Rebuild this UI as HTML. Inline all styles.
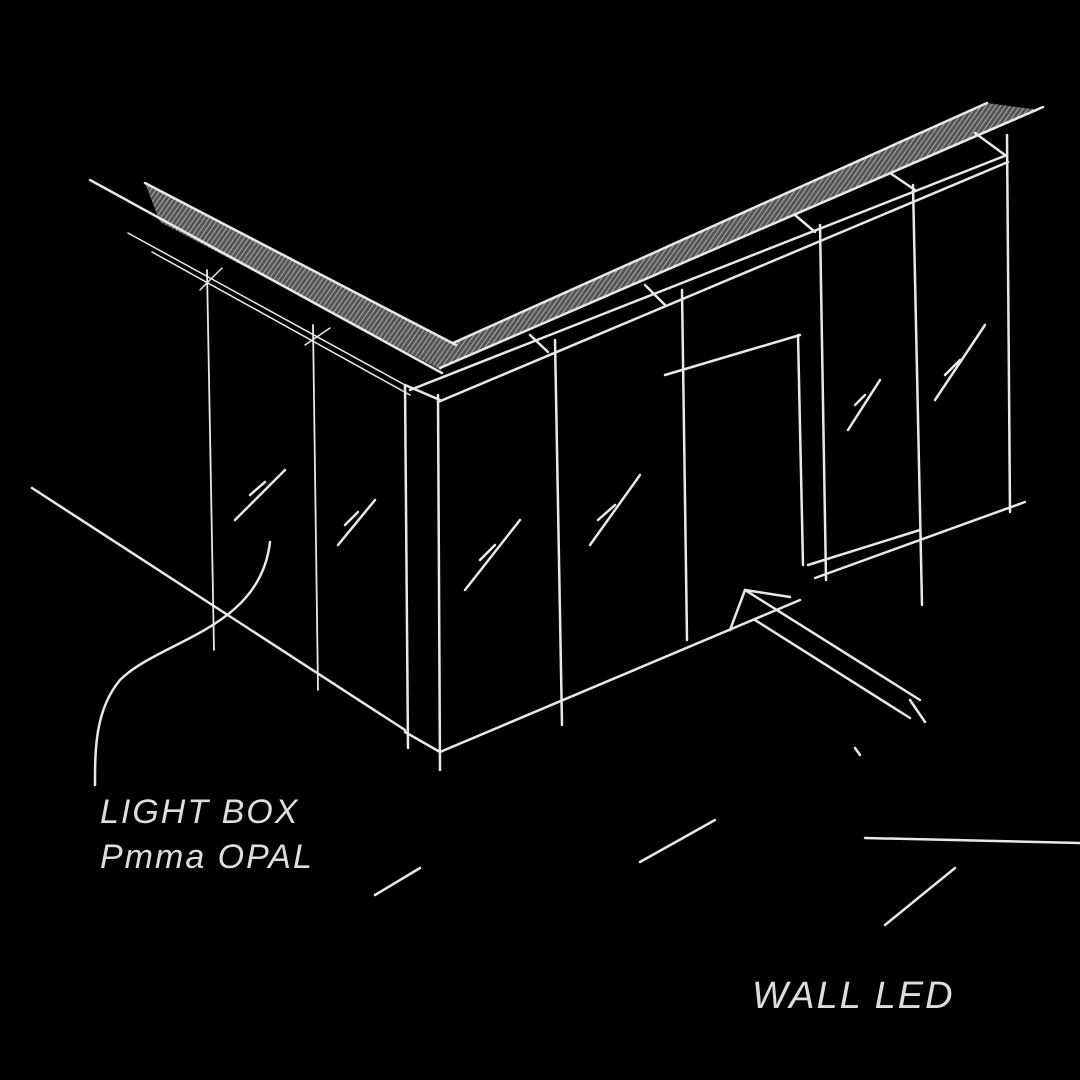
<!DOCTYPE html>
<html><head><style>
html,body{margin:0;padding:0;background:#000;width:1080px;height:1080px;overflow:hidden}
svg{display:block}
text{font-family:"Liberation Sans",sans-serif;fill:#ddd;font-style:italic;letter-spacing:2px}
</style></head><body>
<svg width="1080" height="1080" viewBox="0 0 1080 1080">
<defs>
<pattern id="h" width="4" height="4" patternUnits="userSpaceOnUse" patternTransform="rotate(35)">
<rect width="4" height="4" fill="#555"/><line x1="0" y1="0" x2="0" y2="4" stroke="#bbb" stroke-width="1.6"/>
</pattern>
</defs>
<rect width="1080" height="1080" fill="#000"/>
<polygon points="145,183 455,343 441,370 160,222" fill="url(#h)"/>
<polygon points="453,343 987,103 1040,110 440,368" fill="url(#h)"/>
<g stroke="#e8e8e8" stroke-width="2.5" fill="none" stroke-linecap="round">
<!-- left beam -->
<line x1="90" y1="180" x2="442" y2="373"/>
<line x1="145" y1="183" x2="456" y2="345"/>
<line x1="128" y1="233" x2="405" y2="385" stroke-width="1.5"/>
<line x1="152" y1="252" x2="410" y2="395" stroke-width="1.5"/>
<line x1="200" y1="290" x2="222" y2="268" stroke-width="1.5"/>
<line x1="305" y1="345" x2="330" y2="328" stroke-width="1.5"/>
<!-- right beam -->
<line x1="453" y1="343" x2="987" y2="103"/>
<line x1="440" y1="368" x2="1043" y2="107"/>
<line x1="410" y1="390" x2="1007" y2="155"/>
<line x1="438" y1="402" x2="1008" y2="162"/>
<line x1="530" y1="335" x2="548" y2="352"/>
<line x1="645" y1="285" x2="665" y2="305"/>
<line x1="795" y1="215" x2="815" y2="232"/>
<line x1="890" y1="173" x2="915" y2="190"/>
<line x1="975" y1="133" x2="1005" y2="155"/>
<!-- front box -->
<line x1="405" y1="385" x2="408" y2="748"/>
<line x1="438" y1="395" x2="440" y2="770"/>
<line x1="405" y1="385" x2="440" y2="400"/>
<line x1="440" y1="752" x2="800" y2="600"/>
<line x1="405" y1="732" x2="440" y2="752"/>
<line x1="32" y1="488" x2="405" y2="730"/>
<!-- verticals -->
<line x1="207" y1="270" x2="214" y2="650" stroke-width="1.8"/>
<line x1="313" y1="325" x2="318" y2="690" stroke-width="1.8"/>
<line x1="555" y1="340" x2="562" y2="725"/>
<line x1="682" y1="290" x2="687" y2="640"/>
<line x1="798" y1="335" x2="803" y2="565"/>
<line x1="820" y1="225" x2="826" y2="580"/>
<line x1="913" y1="185" x2="922" y2="605"/>
<line x1="1007" y1="135" x2="1010" y2="512"/>
<line x1="665" y1="375" x2="800" y2="335"/>
<line x1="815" y1="578" x2="1025" y2="502"/>
<line x1="808" y1="565" x2="920" y2="530"/>
<!-- glass marks -->
<line x1="235" y1="520" x2="285" y2="470"/><line x1="250" y1="495" x2="265" y2="482"/>
<line x1="338" y1="545" x2="375" y2="500"/><line x1="345" y1="525" x2="358" y2="512"/>
<line x1="465" y1="590" x2="520" y2="520"/><line x1="480" y1="560" x2="495" y2="545"/>
<line x1="590" y1="545" x2="640" y2="475"/><line x1="598" y1="520" x2="615" y2="505"/>
<line x1="848" y1="430" x2="880" y2="380"/><line x1="855" y1="405" x2="865" y2="395"/>
<line x1="935" y1="400" x2="985" y2="325"/><line x1="945" y1="375" x2="960" y2="360"/>
<!-- arrow -->
<line x1="745" y1="590" x2="920" y2="700"/>
<line x1="755" y1="620" x2="910" y2="718"/>
<line x1="745" y1="590" x2="730" y2="630"/>
<line x1="745" y1="590" x2="790" y2="597"/>
<line x1="910" y1="700" x2="925" y2="722"/>
<path d="M270 542 C 260 630, 160 640, 120 680 C 95 710, 95 750, 95 785"/>
<line x1="375" y1="895" x2="420" y2="868"/>
<line x1="640" y1="862" x2="715" y2="820"/>
<line x1="865" y1="838" x2="1080" y2="843"/>
<line x1="885" y1="925" x2="955" y2="868"/>
<line x1="855" y1="748" x2="860" y2="755"/>
</g>
<text x="100" y="823" font-size="34">LIGHT BOX</text>
<text x="100" y="868" font-size="34">Pmma OPAL</text>
<text x="752" y="1008" font-size="38">WALL LED</text>
</svg>
</body></html>
